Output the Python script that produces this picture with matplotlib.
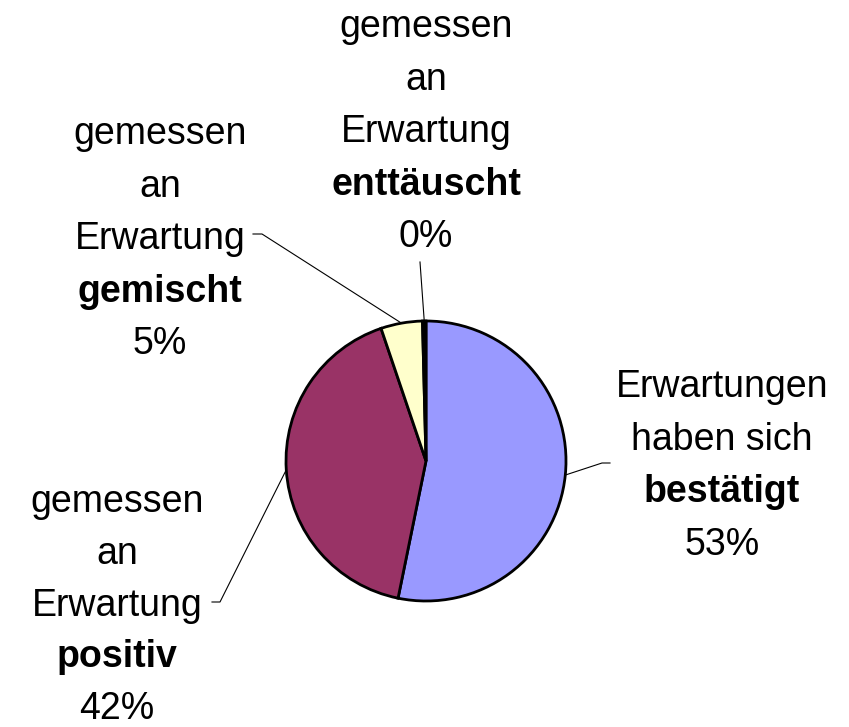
import matplotlib.pyplot as plt
import numpy as np

# slices, clockwise from 12 o'clock
labels = ['bestätigt', 'positiv', 'gemischt', 'enttäuscht']
values = [53.2, 41.6, 4.8, 0.4]
shown_pct = ['53%', '42%', '5%', '0%']
colors = ['#9999FF', '#993366', '#FFFFCC', '#000000']

H = 727
W = 849

fig = plt.figure(figsize=(W / 100, H / 100), dpi=100)
ax = fig.add_axes([0, 0, 1, 1])

cx, cy, r = 426, H - 461, 140
wedges, _ = ax.pie(values, colors=colors, startangle=90, counterclock=False,
                   center=(cx, cy), radius=r, frame=True,
                   wedgeprops=dict(edgecolor='black', linewidth=2.0))
ax.set_xlim(0, W)
ax.set_ylim(0, H)
ax.set_aspect('equal')
ax.set_axis_off()

plt.rcParams['font.family'] = ['Liberation Sans', 'DejaVu Sans']
fs = 27

# text blocks: (lines above the bold word, center x, first line y in pixels, line step)
blocks = {
    'bestätigt': (['Erwartungen', 'haben sich'], 722, 387, 52.6),
    'positiv': (['gemessen', 'an', 'Erwartung'], 117, 502, 51.8),
    'gemischt': (['gemessen', 'an', 'Erwartung'], 160, 134, 52.6),
    'enttäuscht': (['gemessen', 'an', 'Erwartung'], 426, 27, 52.6),
}
# leader line elbow points (pixels)
elbows = {
    'bestätigt': [(602, 463), (610, 463)],
    'positiv': [(220, 602), (212, 602)],
    'gemischt': [(262, 234), (253, 234)],
    'enttäuscht': [(420, 262)],
}

for w, lab, pct in zip(wedges, labels, shown_pct):
    lines, x, y0, step = blocks[lab]
    all_lines = lines + [lab, pct]
    for i, t in enumerate(all_lines):
        ax.text(x, H - (y0 + i * step), t, ha='center', va='center',
                fontsize=fs, fontweight='bold' if t == lab else 'normal')
    ang = np.deg2rad((w.theta1 + w.theta2) / 2)
    px = [cx + r * np.cos(ang)] + [p[0] for p in elbows[lab]]
    py = [cy + r * np.sin(ang)] + [H - p[1] for p in elbows[lab]]
    ax.plot(px, py, color='black', lw=0.8)

plt.savefig('out.png', dpi=100)
